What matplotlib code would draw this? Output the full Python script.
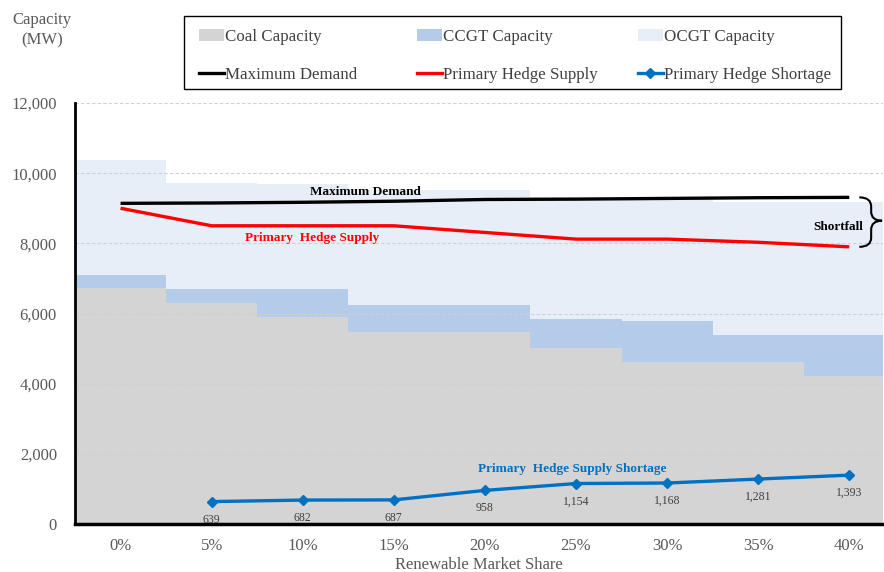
import matplotlib
matplotlib.use("Agg")
import matplotlib.pyplot as plt
from matplotlib.path import Path
from matplotlib.patches import PathPatch, Patch, Rectangle
from matplotlib.lines import Line2D
import numpy as np

categories = ["0%", "5%", "10%", "15%", "20%", "25%", "30%", "35%", "40%"]
coal = [6720, 6310, 5900, 5460, 5460, 5030, 4620, 4620, 4210]
coal_ccgt = [7100, 6700, 6700, 6250, 6250, 5830, 5800, 5400, 5380]
coal_ccgt_ocgt = [10380, 9710, 9680, 9520, 9520, 9330, 9330, 9190, 9170]
max_demand = [9140, 9150, 9170, 9200, 9250, 9260, 9280, 9300, 9310]
hedge_supply = [9000, 8500, 8500, 8500, 8310, 8120, 8120, 8030, 7900]
shortage_cats = ["5%", "10%", "15%", "20%", "25%", "30%", "35%", "40%"]
shortage = [639, 682, 687, 958, 1154, 1168, 1281, 1393]
yticks = [0, 2000, 4000, 6000, 8000, 10000, 12000]

ccgt = [b - a for a, b in zip(coal, coal_ccgt)]
ocgt = [b - a for a, b in zip(coal_ccgt, coal_ccgt_ocgt)]

plt.rcParams['font.family'] = ['Liberation Serif', 'DejaVu Serif']

W, H = 884, 572
fig = plt.figure(figsize=(W / 100, H / 100), dpi=100)
ax = fig.add_axes([75 / W, (H - 524) / H, (883 - 75) / W, (524 - 103) / H])

x = np.arange(len(categories))
c_coal = "#D4D4D4"
c_ccgt = "#B4CCEA"
c_ocgt = "#E8EEF8"
ax.bar(x, coal, width=1.0, color=c_coal, zorder=1, linewidth=0)
ax.bar(x, ccgt, width=1.0, bottom=coal, color=c_ccgt, zorder=1, linewidth=0)
ax.bar(x, ocgt, width=1.0, bottom=coal_ccgt, color=c_ocgt, zorder=1, linewidth=0)

ax.plot(x, max_demand, color="black", lw=2.4, zorder=4, solid_capstyle="butt")
ax.plot(x, hedge_supply, color="#FF0000", lw=2.4, zorder=4, solid_capstyle="butt")
xs = [categories.index(c) for c in shortage_cats]
ax.plot(xs, shortage, color="#0070C0", lw=2.4, marker="D", markersize=5.5, zorder=5)
for xi, v in zip(xs, shortage):
    ax.annotate(f"{v:,}", (xi, v), xytext=(0, -13), textcoords="offset points",
                ha="center", va="center", fontsize=8.5, color="#404040", zorder=6)

ax.set_xlim(-0.5, 8.37)
ax.set_ylim(0, 12000)
ax.set_yticks(yticks)
ax.set_yticklabels([f"{v:,}" for v in yticks])
ax.set_xticks(x)
ax.set_xticklabels(categories)
ax.tick_params(axis="both", length=0, labelsize=12, colors="#595959")
ax.tick_params(axis="y", pad=13)
ax.tick_params(axis="x", pad=10)
ax.set_axisbelow(False)
ax.yaxis.grid(True, color="#D0D0D0", lw=0.8, ls=(0, (3, 2)))
ax.xaxis.grid(False)
for s in ["top", "right"]:
    ax.spines[s].set_visible(False)
ax.spines["left"].set_linewidth(2.0)
ax.spines["bottom"].set_linewidth(2.5)
ax.spines["left"].set_zorder(6)
ax.spines["bottom"].set_zorder(6)
ax.set_facecolor("white")

ax.set_xlabel("Renewable Market Share", fontsize=12, color="#595959", labelpad=2)
fig.text(42 / W, 1 - 30 / H, "Capacity\n(MW)", ha="center", va="center",
         fontsize=12, color="#595959", linespacing=1.35)

# annotations
ax.text(2.69, 9470, "Maximum Demand", fontsize=9.5, fontweight="bold", color="black",
        ha="center", va="center", zorder=7)
ax.text(2.10, 8150, "Primary  Hedge Supply", fontsize=9.5, fontweight="bold", color="#FF0000",
        ha="center", va="center", zorder=7)
ax.text(4.96, 1570, "Primary  Hedge Supply Shortage", fontsize=9.5, fontweight="bold",
        color="#0070C0", ha="center", va="center", zorder=7)
ax.text(7.88, 8475, "Shortfall", fontsize=9.5, fontweight="bold", color="black",
        ha="center", va="center", zorder=7)

# curly brace between demand and supply at 40%
yt, yb = max_demand[-1], hedge_supply[-1]
ym = (yt + yb) / 2 + 40
x0, x1, x2 = 8.11, 8.24, 8.36
r = 260
verts = [(x0, yt), (x1, yt), (x1, yt - r),
         (x1, ym + r), (x1, ym), (x2, ym),
         (x1, ym), (x1, ym - r),
         (x1, yb + r), (x1, yb), (x0, yb)]
codes = [Path.MOVETO, Path.CURVE3, Path.CURVE3,
         Path.LINETO, Path.CURVE3, Path.CURVE3,
         Path.CURVE3, Path.CURVE3,
         Path.LINETO, Path.CURVE3, Path.CURVE3]
ax.add_patch(PathPatch(Path(verts, codes), fill=False, edgecolor="black", lw=1.5,
                       zorder=7, clip_on=False))

# legend: frame + three columns
fig.patches.append(Rectangle((184 / W, 1 - 89 / H), (841 - 184) / W, (89 - 16) / H,
                             transform=fig.transFigure, fill=False,
                             edgecolor="black", lw=1.0, zorder=10))
columns = [
    ([Patch(facecolor=c_coal, edgecolor="none"), Line2D([], [], color="black", lw=2.4)],
     ["Coal Capacity", "Maximum Demand"], 199),
    ([Patch(facecolor=c_ccgt, edgecolor="none"), Line2D([], [], color="#FF0000", lw=2.4)],
     ["CCGT Capacity", "Primary Hedge Supply"], 417),
    ([Patch(facecolor=c_ocgt, edgecolor="none"),
      Line2D([], [], color="#0070C0", lw=2.4, marker="D", markersize=5.5)],
     ["OCGT Capacity", "Primary Hedge Shortage"], 638),
]
for hs, ls, xl in columns:
    lg = fig.legend(hs, ls, loc="upper left", bbox_to_anchor=(xl / W, 1 - 29 / H),
                    borderaxespad=0, borderpad=0, frameon=False, fontsize=12.2,
                    handlelength=1.45, handletextpad=0.1, labelspacing=1.27,
                    handleheight=0.7)
    for t in lg.get_texts():
        t.set_color("#404040")

fig.savefig("out.png", dpi=100)
